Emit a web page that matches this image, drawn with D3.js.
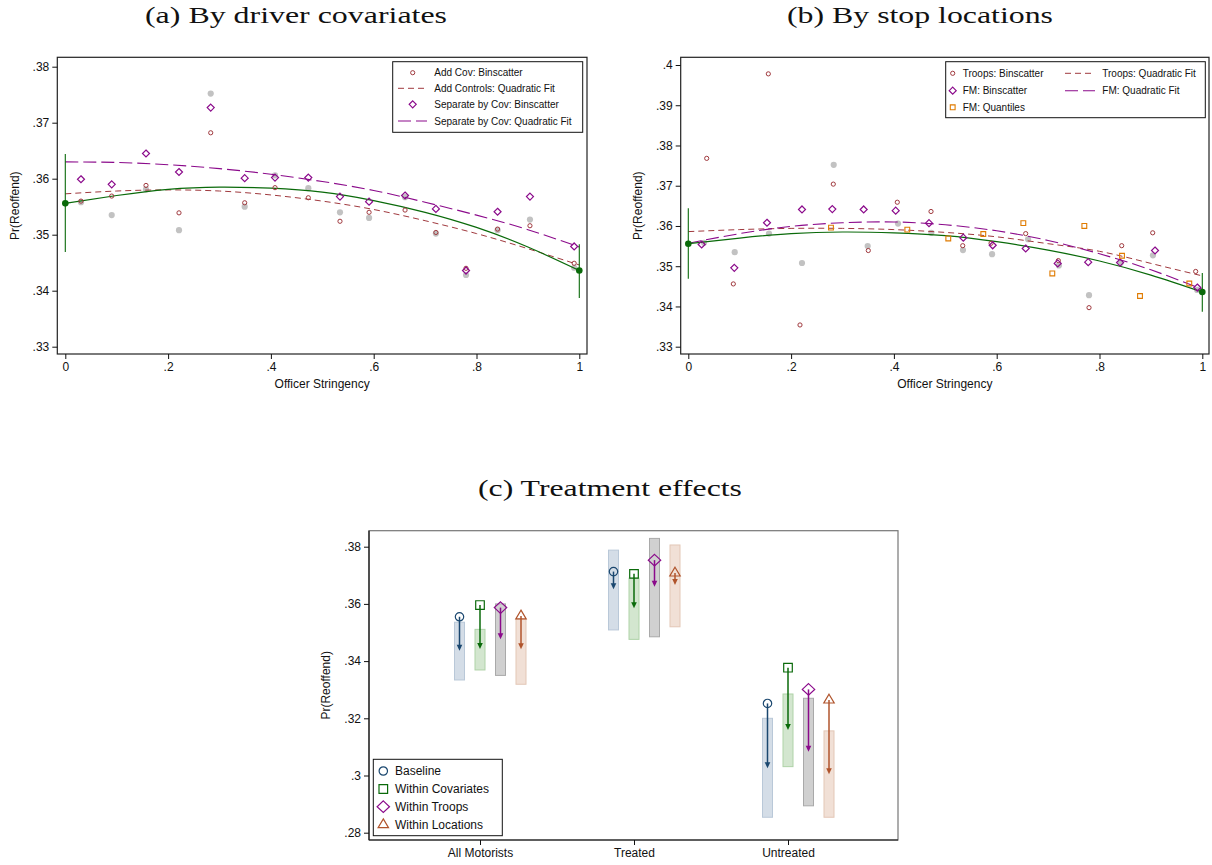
<!DOCTYPE html>
<html>
<head>
<meta charset="utf-8">
<script src="https://cdn.jsdelivr.net/npm/d3@7"></script>
<style>
body { margin: 0; background: #fff; }
svg text { font-family: "Liberation Sans", Arial, sans-serif; fill: #111; }
svg text.title { font-family: "Liberation Serif", "Times New Roman", serif; }
</style>
</head>
<body>
<svg id="fig" width="1212" height="865"></svg>
<script>
// ---- panel (a) / (b): binscatter data ----
var covX     = [.0305, .0903, .157, .2212, .2829, .349, .408, .4728, .5344, .591, .661, .721, .7796, .841, .904, .990];
var baseY    = [.3558, .3535, .3581, .3508, .3752, .3550, .3606, .3583, .3540, .3530, .3567, .3502, .3428, .3508, .3527, .3441];
var addCovY  = [.3560, .3569, .3588, .3539, .3682, .3557, .3584, .3566, .3524, .3540, .3544, .3504, .3440, .3510, .3516, .3449];
var sepCovY  = [.3599, .3590, .3645, .3612, .3727, .3601, .3602, .3602, .3568, .3559, .3570, .3546, .3436, .3541, .3568, .3479];

var troopsX  = [.0358, .0876, .1557, .2173, .2821, .3502, .4066, .4722, .5339, .589, .6564, .7199, .7796, .8432, .9035, .9871];
var troopsY  = [.3768, .3456, .3978, .3354, .3704, .3539, .3659, .3636, .3551, .3557, .3581, .3514, .3397, .3551, .3583, .3487];
var fmX      = [.026, .0895, .1531, .2212, .2802, .3412, .4035, .4683, .535, .5922, .6564, .7187, .778, .840, .908, .9903];
var fmY      = [.3554, .3496, .3608, .3641, .3642, .3641, .3638, .3607, .3571, .3552, .3544, .3507, .3510, .3509, .3539, .3447];
var quantX   = [.2776, .4261, .5058, .5739, .6518, .7082, .7705, .8438, .8788, .9747];
var quantY   = [.3596, .3591, .3569, .3580, .3607, .3482, .3600, .3526, .3426, .3457];

// quadratic fit lines, read at these x values
var fitX      = [0, .1, .2, .3, .4, .5, .6, .7, .8, .9, 1];
var baseFit   = [.3556, .3570, .3581, .3585, .3583, .3576, .3561, .3540, .3513, .3478, .3436];
var addCovFit = [.3573, .3578, .3580, .3578, .3571, .3560, .3545, .3525, .3502, .3475, .3446];
var sepCovFit = [.3630, .3629, .3625, .3618, .3608, .3595, .3579, .3558, .3535, .3509, .3478];
var troopsFit = [.3586, .3591, .3594, .3594, .3591, .3584, .3573, .3556, .3537, .3507, .3476];
var fmFit     = [.3557, .3581, .3599, .3608, .3610, .3603, .3588, .3564, .3531, .3491, .3443];

// baseline end points with confidence intervals
var endX  = [0, 1];
var endY  = [.3556, .3436];
var endLo = [.3469, .3387];
var endHi = [.3644, .3483];

var xTicksAB = [0, .2, .4, .6, .8, 1];
var yTicksA  = [.33, .34, .35, .36, .37, .38];
var yTicksB  = [.33, .34, .35, .36, .37, .38, .39, .40];

// ---- panel (c): treatment effects ----
var groups = ["All Motorists", "Treated", "Untreated"];
var specs  = ["Baseline", "Within Covariates", "Within Troops", "Within Locations"];
var pointY = [[.3555, .3713, .3252], [.3596, .3705, .3377], [.3587, .3753, .3301], [.3558, .3708, .3264]];
var arrowY = [[.3436, .3651, .3025], [.3442, .3585, .3159], [.3476, .3660, .3083], [.3441, .3666, .3004]];
var barLo  = [[.3334, .3509, .2854], [.3369, .3476, .3031], [.3350, .3485, .2894], [.3319, .3520, .2854]];
var barHi  = [[.3536, .3788, .3200], [.3511, .3690, .3285], [.3600, .3829, .3270], [.3546, .3806, .3156]];
var yTicksC = [.28, .30, .32, .34, .36, .38];

var svg = d3.select("#fig");

var navy = "#1a476f", green = "#0a6a0a", maroon = "#a0393e", purple = "#8b0a8b",
    orange = "#e07b00", grey = "#c2c2c2", sienna = "#b0542c";

function fmt(d) { return String(+d.toFixed(2)).replace(/^0\./, "."); }

function diamond(h, w) { w = w || h; return "M0," + (-h) + "L" + w + ",0L0," + h + "L" + (-w) + ",0Z"; }
function square(s) { return "M" + (-s) + "," + (-s) + "h" + (2 * s) + "v" + (2 * s) + "h" + (-2 * s) + "Z"; }
function triangle(w, up, dn) { return "M0," + (-up) + "L" + w + "," + dn + "L" + (-w) + "," + dn + "Z"; }

function frame(g, box, stroke) {
    g.append("rect")
        .attr("x", box.l).attr("y", box.t)
        .attr("width", box.r - box.l).attr("height", box.b - box.t)
        .attr("fill", "none").attr("stroke", stroke || "#222").attr("stroke-width", 1.2);
}

function styleAxis(sel) {
    sel.select(".domain").remove();
    sel.selectAll(".tick line").attr("stroke", "#111");
    sel.selectAll(".tick text").style("font-size", "12px").attr("fill", "#111");
}

function scatterPanel(box, x, y, yTicks) {
    var g = svg.append("g");
    frame(g, box);
    g.append("g").attr("transform", "translate(" + box.l + ",0)")
        .call(d3.axisLeft(y).tickValues(yTicks).tickFormat(fmt).tickSize(5).tickPadding(3))
        .call(styleAxis);
    g.append("g").attr("transform", "translate(0," + box.b + ")")
        .call(d3.axisBottom(x).tickValues(xTicksAB).tickFormat(fmt).tickSize(5).tickPadding(3))
        .call(styleAxis);
    g.append("text").attr("x", (box.l + box.r) / 2).attr("y", 388)
        .attr("text-anchor", "middle").style("font-size", "12px").text("Officer Stringency");
    g.append("text").attr("transform", "translate(" + (box.l - 38.5) + "," + ((box.t + box.b) / 2) + ") rotate(-90)")
        .attr("text-anchor", "middle").style("font-size", "12px").text("Pr(Reoffend)");
    return g;
}

function greyDots(g, x, y) {
    g.append("g").selectAll("circle").data(covX).enter().append("circle")
        .attr("cx", function (d) { return x(d); })
        .attr("cy", function (d, i) { return y(baseY[i]); })
        .attr("r", 3.1).attr("fill", grey);
}

function fitLine(g, x, y, vals, color, dash, w) {
    var line = d3.line().x(function (d) { return x(d); })
        .y(function (d, i) { return y(vals[i]); }).curve(d3.curveNatural);
    g.append("path").datum(fitX).attr("d", line)
        .attr("fill", "none").attr("stroke", color).attr("stroke-width", w || 1.1)
        .attr("stroke-dasharray", dash || null);
}

function baseline(g, x, y) {
    fitLine(g, x, y, baseFit, green, null, 1.2);
    g.append("g").selectAll("line").data(endX).enter().append("line")
        .attr("x1", function (d) { return x(d); }).attr("x2", function (d) { return x(d); })
        .attr("y1", function (d, i) { return y(endLo[i]); }).attr("y2", function (d, i) { return y(endHi[i]); })
        .attr("stroke", green).attr("stroke-width", 1.1);
    g.append("g").selectAll("circle").data(endX).enter().append("circle")
        .attr("cx", function (d) { return x(d); }).attr("cy", function (d, i) { return y(endY[i]); })
        .attr("r", 3.3).attr("fill", green);
}

function hollowCircles(g, x, y, xs, ys) {
    g.append("g").selectAll("circle").data(xs).enter().append("circle")
        .attr("cx", function (d) { return x(d); }).attr("cy", function (d, i) { return y(ys[i]); })
        .attr("r", 2.1).attr("fill", "none").attr("stroke", maroon).attr("stroke-width", 1);
}

function diamonds(g, x, y, xs, ys) {
    g.append("g").selectAll("path").data(xs).enter().append("path")
        .attr("transform", function (d, i) { return "translate(" + x(d) + "," + y(ys[i]) + ")"; })
        .attr("d", diamond(3.5)).attr("fill", "none").attr("stroke", purple).attr("stroke-width", 1.2);
}

function legendBox(g, l, t, r, b) {
    g.append("rect").attr("x", l).attr("y", t).attr("width", r - l).attr("height", b - t)
        .attr("fill", "#fff").attr("stroke", "#111").attr("stroke-width", 1);
}

function legendText(g, xp, yp, s, size) {
    g.append("text").attr("x", xp).attr("y", yp).attr("dy", "0.35em")
        .style("font-size", size + "px").text(s);
}

// ---------- panel (a) ----------
var boxA = {l: 57.3, r: 587, t: 57.3, b: 354};
var xA = d3.scaleLinear().domain([0, 1]).range([65.3, 579.3]);
var yA = d3.scaleLinear().domain([.33, .38]).range([346.7, 66.7]);
var gA = scatterPanel(boxA, xA, yA, yTicksA);
greyDots(gA, xA, yA);
fitLine(gA, xA, yA, addCovFit, maroon, "6,4", 1);
fitLine(gA, xA, yA, sepCovFit, purple, "13,5", 1.1);
baseline(gA, xA, yA);
hollowCircles(gA, xA, yA, covX, addCovY);
diamonds(gA, xA, yA, covX, sepCovY);

var legA = gA.append("g");
legendBox(legA, 392.7, 61.7, 582.7, 132.3);
var legAy = [72.7, 88.3, 104.3, 121];
legA.append("circle").attr("cx", 412.7).attr("cy", legAy[0]).attr("r", 2.1)
    .attr("fill", "none").attr("stroke", maroon);
legA.append("line").attr("x1", 398).attr("x2", 427).attr("y1", legAy[1]).attr("y2", legAy[1])
    .attr("stroke", maroon).attr("stroke-dasharray", "6,4");
legA.append("path").attr("transform", "translate(412.7," + legAy[2] + ")").attr("d", diamond(3.5))
    .attr("fill", "none").attr("stroke", purple).attr("stroke-width", 1.2);
legA.append("line").attr("x1", 398).attr("x2", 427).attr("y1", legAy[3]).attr("y2", legAy[3])
    .attr("stroke", purple).attr("stroke-width", 1.1).attr("stroke-dasharray", "13,5");
["Add Cov: Binscatter", "Add Controls: Quadratic Fit", "Separate by Cov: Binscatter",
 "Separate by Cov: Quadratic Fit"].forEach(function (s, i) { legendText(legA, 434.3, legAy[i], s, 10); });

// ---------- panel (b) ----------
var boxB = {l: 680.7, r: 1209, t: 57.3, b: 354};
var xB = d3.scaleLinear().domain([0, 1]).range([688.3, 1202.3]);
var yB = d3.scaleLinear().domain([.33, .40]).range([346.7, 65]);
var gB = scatterPanel(boxB, xB, yB, yTicksB);
greyDots(gB, xB, yB);
fitLine(gB, xB, yB, troopsFit, maroon, "6,4", 1);
fitLine(gB, xB, yB, fmFit, purple, "13,5", 1.1);
baseline(gB, xB, yB);
hollowCircles(gB, xB, yB, troopsX, troopsY);
diamonds(gB, xB, yB, fmX, fmY);
gB.append("g").selectAll("path").data(quantX).enter().append("path")
    .attr("transform", function (d, i) { return "translate(" + xB(d) + "," + yB(quantY[i]) + ")"; })
    .attr("d", square(2.4)).attr("fill", "none").attr("stroke", orange).attr("stroke-width", 1.1);

var legB = gB.append("g");
legendBox(legB, 945.7, 61.7, 1205.3, 117.7);
var legBy = [73.3, 90.7, 107.3];
legB.append("circle").attr("cx", 952.7).attr("cy", legBy[0]).attr("r", 2.1)
    .attr("fill", "none").attr("stroke", maroon);
legB.append("path").attr("transform", "translate(952.7," + legBy[1] + ")").attr("d", diamond(3.5))
    .attr("fill", "none").attr("stroke", purple).attr("stroke-width", 1.2);
legB.append("path").attr("transform", "translate(952.7," + legBy[2] + ")").attr("d", square(2.4))
    .attr("fill", "none").attr("stroke", orange).attr("stroke-width", 1.1);
legB.append("line").attr("x1", 1065).attr("x2", 1095).attr("y1", legBy[0]).attr("y2", legBy[0])
    .attr("stroke", maroon).attr("stroke-dasharray", "6,4");
legB.append("line").attr("x1", 1065).attr("x2", 1095).attr("y1", legBy[1]).attr("y2", legBy[1])
    .attr("stroke", purple).attr("stroke-width", 1.1).attr("stroke-dasharray", "13,5");
["Troops: Binscatter", "FM: Binscatter", "FM: Quantiles"].forEach(function (s, i) { legendText(legB, 962.7, legBy[i], s, 10); });
["Troops: Quadratic Fit", "FM: Quadratic Fit"].forEach(function (s, i) { legendText(legB, 1102.3, legBy[i], s, 10); });

// ---------- panel (c) ----------
var boxC = {l: 369, r: 898, t: 530.7, b: 840};
var xC = d3.scalePoint().domain(groups).range([480, 788]);
var yC = d3.scaleLinear().domain([.28, .38]).range([832.7, 546.7]);
var dodge = d3.scalePoint().domain(specs).range([-20.5, 41]);
var gC = svg.append("g");
frame(gC, boxC, "#777");
gC.append("line").attr("x1", boxC.l).attr("x2", boxC.l).attr("y1", boxC.t).attr("y2", boxC.b).attr("stroke", "#111").attr("stroke-width", 1.2);
gC.append("line").attr("x1", boxC.l).attr("x2", boxC.r).attr("y1", boxC.b).attr("y2", boxC.b).attr("stroke", "#111").attr("stroke-width", 1.2);
gC.append("g").attr("transform", "translate(" + boxC.l + ",0)")
    .call(d3.axisLeft(yC).tickValues(yTicksC).tickFormat(fmt).tickSize(5).tickPadding(3))
    .call(styleAxis);
gC.append("g").attr("transform", "translate(0," + boxC.b + ")")
    .call(d3.axisBottom(xC).tickSize(5).tickPadding(3))
    .call(styleAxis);
gC.append("text").attr("transform", "translate(330," + ((boxC.t + boxC.b) / 2) + ") rotate(-90)")
    .attr("text-anchor", "middle").style("font-size", "12px").text("Pr(Reoffend)");

var specColor = [navy, green, purple, sienna];
var barFill   = ["#d4dde7", "#d3e6cf", "#d0d0d0", "#f1e0d6"];
var barEdge   = ["#b9c8d8", "#afd3a8", "#a9a9a9", "#e3c7b6"];
var specShape = [
    function (s) { return s.append("circle").attr("r", 4.2); },
    function (s) { return s.append("path").attr("d", square(4.3)); },
    function (s) { return s.append("path").attr("d", diamond(5.8, 6.2)); },
    function (s) { return s.append("path").attr("d", triangle(5.2, 5.8, 3)); }
];

specs.forEach(function (sp, k) {
    var gs = gC.append("g");
    var cx = function (d) { return xC(d) + dodge(sp); };
    gs.selectAll("rect").data(groups).enter().append("rect")
        .attr("x", function (d) { return cx(d) - 5; }).attr("width", 10)
        .attr("y", function (d, i) { return yC(barHi[k][i]); })
        .attr("height", function (d, i) { return yC(barLo[k][i]) - yC(barHi[k][i]); })
        .attr("fill", barFill[k]).attr("stroke", barEdge[k]).attr("stroke-width", 1);
    groups.forEach(function (grp, i) {
        var x0 = cx(grp), y0 = yC(pointY[k][i]), y1 = yC(arrowY[k][i]);
        var dir = y1 > y0 ? 1 : -1;
        gs.append("line").attr("x1", x0).attr("x2", x0).attr("y1", y0).attr("y2", y1 - dir * 3)
            .attr("stroke", specColor[k]).attr("stroke-width", 1.5);
        gs.append("path")
            .attr("d", "M" + x0 + "," + y1 + "L" + (x0 - 2.8) + "," + (y1 - dir * 6) + "L" + (x0 + 2.8) + "," + (y1 - dir * 6) + "Z")
            .attr("fill", specColor[k]);
        specShape[k](gs.append("g").attr("transform", "translate(" + x0 + "," + y0 + ")"))
            .attr("fill", "none").attr("stroke", specColor[k]).attr("stroke-width", 1.2);
    });
});

var legC = gC.append("g");
legendBox(legC, 373.3, 759.3, 502.3, 835.7);
var legCy = [771, 789, 806.7, 824.7];
specs.forEach(function (sp, k) {
    specShape[k](legC.append("g").attr("transform", "translate(383.3," + legCy[k] + ")"))
        .attr("fill", "none").attr("stroke", specColor[k]).attr("stroke-width", 1.2);
    legendText(legC, 395, legCy[k], sp, 12);
});

// ---------- titles (LaTeX-style captions, stretched to the original width) ----------
[["(a) By driver covariates", 296, 23, 302], ["(b) By stop locations", 920, 23, 266], ["(c) Treatment effects", 610, 496, 264]]
    .forEach(function (t) {
        svg.append("text").attr("class", "title").attr("x", t[1]).attr("y", t[2])
            .attr("text-anchor", "middle").style("font-size", "24px")
            .attr("textLength", t[3]).attr("lengthAdjust", "spacingAndGlyphs").text(t[0]);
    });
</script>
</body>
</html>
